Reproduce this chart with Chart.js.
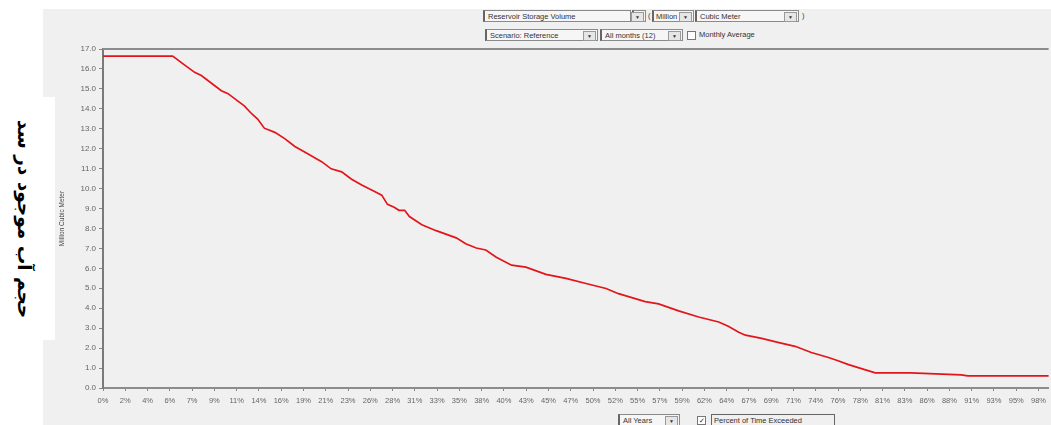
<!DOCTYPE html>
<html>
<head>
<meta charset="utf-8">
<script src="https://cdn.jsdelivr.net/npm/chart.js@4/dist/chart.umd.min.js"></script>
<style>
    body { margin: 0; background: #fff; width: 1051px; height: 425px; overflow: hidden; position: relative; font-family: "Liberation Sans", Arial, sans-serif; }
    #panel { position: absolute; left: 43px; top: 9px; width: 1008px; height: 416px; background: #f0f0f0; }
    #side { position: absolute; left: 0; top: 97px; width: 55px; height: 243px; background: #fff; }
    #side span { position: absolute; left: 44%; top: 50%; transform: translate(-50%, -50%) rotate(90deg); white-space: nowrap; font: bold 18.5px "DejaVu Sans"; direction: rtl; color: #000; }
    #wrap { position: absolute; left: 0; top: 0; width: 1051px; height: 425px; }
    .ctl { position: absolute; height: 12px; font-size: 7.5px; line-height: 11px; color: #333; white-space: nowrap; box-sizing: border-box; }
    .box { border: 1px solid #8a8a8a; border-left: 2px solid #666; background: #f6f6f6; padding-left: 3px; }
    .btn { position: absolute; right: 1px; top: 1px; width: 11px; height: 8px; border: 1px solid #999; font-size: 5px; line-height: 8px; text-align: center; background: #e6e6e6; padding: 0; }
    .chk { position: absolute; width: 7px; height: 7px; border: 1px solid #777; background: #fff; font-size: 7px; line-height: 7px; text-align: center; color: #222; }
</style>
</head>
<body>
<div id="panel"></div>
<div id="side"><span>حجم آب موجود در سد</span></div>

<!-- controles do topo -->
<div class="ctl box" style="left:483px;top:10px;width:148px">Reservoir Storage Volume</div>
<div class="ctl box" style="left:632px;top:10px;width:14px;padding:0"><span class="btn">▼</span></div>
<div class="ctl" style="left:648px;top:10px">(</div>
<div class="ctl box" style="left:652px;top:10px;width:42px;padding-left:2px">Million<span class="btn">▼</span></div>
<div class="ctl box" style="left:695px;top:10px;width:104px">Cubic Meter<span class="btn">▼</span></div>
<div class="ctl" style="left:802px;top:10px">)</div>

<div class="ctl box" style="left:485px;top:29px;width:113px">Scenario: Reference<span class="btn">▼</span></div>
<div class="ctl box" style="left:600px;top:29px;width:83px">All months (12)<span class="btn">▼</span></div>
<div class="chk" style="left:687px;top:31px"></div>
<div class="ctl" style="left:699px;top:29px">Monthly Average</div>

<!-- controles de baixo -->
<div class="ctl box" style="left:618px;top:414px;width:62px">All Years<span class="btn">▼</span></div>
<div class="chk" style="left:697px;top:416px">✓</div>
<div class="ctl" style="left:711px;top:414px;width:124px;border:1px solid #666;padding-left:2px">Percent of Time Exceeded</div>

<div id="wrap"><canvas id="chart" width="1051" height="425"></canvas></div>

<script>
    // Rótulos do eixo X (percentual do tempo excedido)
    const xTickLabels = ['0%', '2%', '4%', '6%', '7%', '9%', '11%', '14%', '16%', '19%', '21%', '23%', '26%', '28%',
        '31%', '33%', '35%', '38%', '40%', '43%', '45%', '47%', '50%', '52%', '55%', '57%', '59%', '62%', '64%',
        '67%', '69%', '71%', '74%', '76%', '78%', '81%', '83%', '86%', '88%', '91%', '93%', '95%', '98%'];

    // Curva de permanência do volume armazenado
    const exceedPct = [0, 7.3, 8.6, 9.6, 10.3, 11.4, 12.4, 13.1, 14.1, 14.8, 15.6, 16.2, 16.9, 18.0, 19.0, 20.1,
        21.4, 22.9, 23.9, 25.0, 26.0, 27.1, 28.4, 29.2, 29.8, 30.5, 31.0, 31.6, 32.1, 33.4, 34.9, 37.0, 38.0,
        39.1, 40.1, 41.2, 42.8, 44.3, 46.4, 48.5, 50.6, 52.7, 54.0, 56.8, 58.2, 60.3, 62.4, 64.5, 65.5, 66.6,
        67.3, 69.0, 70.7, 72.5, 74.2, 76.0, 77.0, 78.1, 79.8, 80.9, 84.6, 89.9, 90.6, 99.1];
    const storageMCM = [16.64, 16.64, 16.18, 15.83, 15.67, 15.27, 14.91, 14.76, 14.40, 14.15, 13.74, 13.49, 13.03,
        12.82, 12.52, 12.11, 11.76, 11.35, 10.99, 10.84, 10.48, 10.18, 9.87, 9.67, 9.21, 9.06, 8.91, 8.91, 8.60,
        8.19, 7.89, 7.53, 7.23, 7.02, 6.92, 6.56, 6.16, 6.06, 5.70, 5.50, 5.24, 4.99, 4.73, 4.33, 4.22, 3.87,
        3.56, 3.31, 3.10, 2.80, 2.65, 2.49, 2.29, 2.09, 1.78, 1.53, 1.37, 1.17, 0.92, 0.76, 0.76, 0.66, 0.61, 0.61];

    // moldura superior do gráfico
    const framePlugin = {
        id: 'frame',
        afterDraw(chart) {
            const { ctx, chartArea } = chart;
            ctx.save();
            ctx.strokeStyle = '#8c8c8c';
            ctx.lineWidth = 2;
            ctx.beginPath();
            ctx.moveTo(chartArea.left, chartArea.top);
            ctx.lineTo(chartArea.right, chartArea.top);
            ctx.stroke();
            ctx.restore();
        }
    };

    const ctx = document.getElementById('chart').getContext('2d');
    new Chart(ctx, {
        type: 'line',
        data: {
            datasets: [{
                data: exceedPct.map((x, i) => ({ x: x, y: storageMCM[i] })),
                borderColor: '#e3151b',
                borderWidth: 1.7,
                pointRadius: 0,
                fill: false,
                tension: 0
            }]
        },
        options: {
            responsive: false,
            animation: false,
            layout: { padding: { left: 43, top: 49, right: 0, bottom: 0 } },
            scales: {
                x: {
                    type: 'linear',
                    min: 0,
                    max: 99.06,
                    afterBuildTicks: s => { s.ticks = xTickLabels.map((_, i) => ({ value: i * 98 / 42 })); },
                    afterFit: s => { s.height = 37; },
                    ticks: {
                        autoSkip: false,
                        maxRotation: 0,
                        padding: 5,
                        color: '#666',
                        font: { family: 'Liberation Sans', size: 7.5 },
                        callback: (v, i) => xTickLabels[i]
                    },
                    grid: { drawOnChartArea: false, tickLength: 3, color: '#888' },
                    border: { color: '#8c8c8c', width: 2 }
                },
                y: {
                    min: 0,
                    max: 17,
                    afterFit: s => { s.width = 60; },
                    ticks: {
                        stepSize: 1,
                        padding: 3,
                        color: '#666',
                        font: { family: 'Liberation Sans', size: 8 },
                        callback: v => v.toFixed(1)
                    },
                    grid: { drawOnChartArea: false, tickLength: 4, color: '#888' },
                    border: { color: '#7a7a7a', width: 2 },
                    title: {
                        display: true,
                        text: 'Million Cubic Meter',
                        color: '#444',
                        font: { family: 'Liberation Sans', size: 6.5 },
                        padding: { top: 15, bottom: 0 }
                    }
                }
            },
            plugins: {
                legend: { display: false },
                tooltip: { enabled: false }
            }
        },
        plugins: [framePlugin]
    });
</script>
</body>
</html>
